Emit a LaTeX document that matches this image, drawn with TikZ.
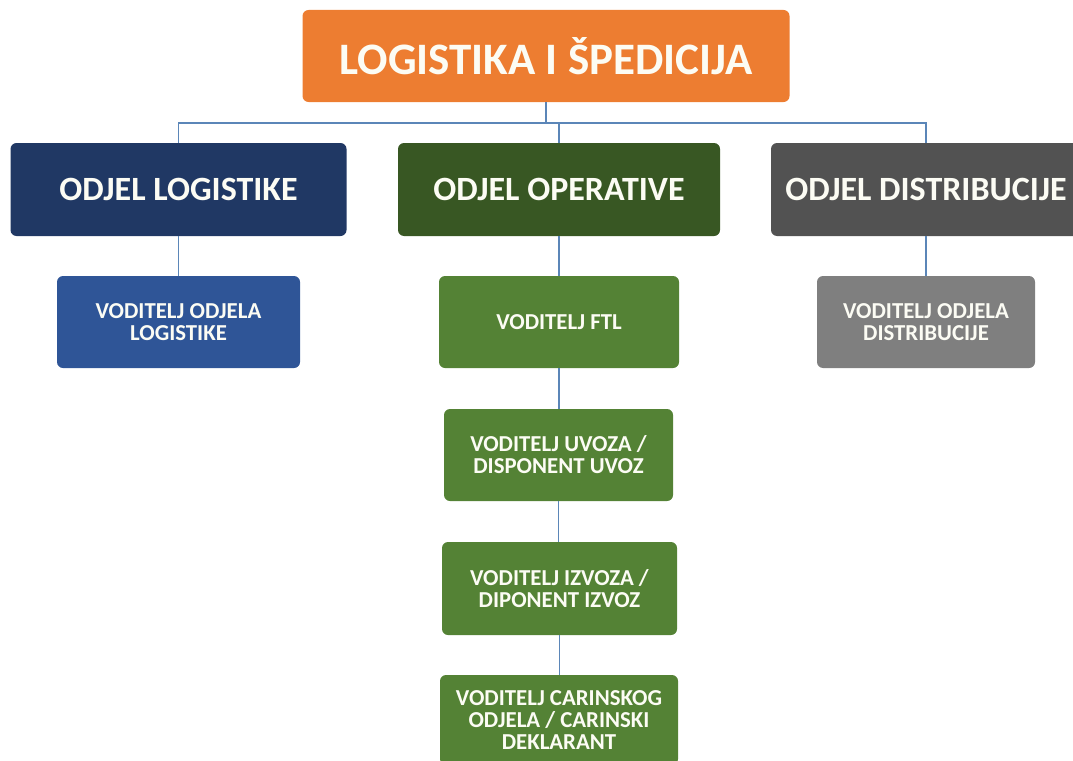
\documentclass[tikz,border=0pt]{standalone}
\usepackage{fontspec}
\setmainfont{Carlito}
\usepackage{tikz}

\definecolor{orangetop}{HTML}{ED7D31}
\definecolor{bluedept}{HTML}{203864}
\definecolor{bluepost}{HTML}{2F5597}
\definecolor{greendept}{HTML}{385723}
\definecolor{greenpost}{HTML}{548235}
\definecolor{graydept}{HTML}{525252}
\definecolor{graypost}{HTML}{7F7F7F}
\definecolor{linkblue}{HTML}{5B86B8}
\definecolor{boxtext}{HTML}{FCFCF4}

\begin{document}
\begin{tikzpicture}[x=1pt,y=-1pt,
    box/.style={rounded corners=6pt,text=boxtext,align=center,inner sep=0pt},
    dept/.style={box,minimum height=93pt,font=\bfseries\fontsize{34}{38}\selectfont},
    post/.style={box,minimum height=92pt,font=\bfseries\fontsize{22.8}{22}\selectfont},
    link/.style={draw=linkblue,line width=1.6pt}]
\useasboundingbox (0,0) rectangle (1073,760);
\clip (0,0) rectangle (1073,760);

\path
    ( 546  , 56  ) node [box,fill=orangetop,minimum width=487pt,minimum height=92pt,
                         font=\bfseries\fontsize{45}{50}\selectfont] (top) {LOGISTIKA I ŠPEDICIJA}
    ( 178.5,189.5) node [dept,fill=bluedept, minimum width=336pt] (logist) {ODJEL LOGISTIKE}
    ( 559  ,189.5) node [dept,fill=greendept,minimum width=322pt] (oper)   {ODJEL OPERATIVE}
    ( 926  ,189.5) node [dept,fill=graydept, minimum width=310pt] (distr)  {ODJEL DISTRIBUCIJE};

\path
    ( 178.5,322  ) node [post,fill=bluepost, minimum width=243pt] (vlog)   {VODITELJ ODJELA\\LOGISTIKE}
    ( 559  ,322  ) node [post,fill=greenpost,minimum width=240pt] (vftl)   {VODITELJ FTL}
    ( 926  ,322  ) node [post,fill=graypost, minimum width=218pt] (vdistr) {VODITELJ ODJELA\\DISTRIBUCIJE}
    ( 558.5,455  ) node [post,fill=greenpost,minimum width=229pt] (vuvoz)  {VODITELJ UVOZA /\\DISPONENT UVOZ}
    ( 559.5,588.5) node [post,fill=greenpost,minimum width=235pt,minimum height=93pt] (vizvoz) {VODITELJ IZVOZA /\\DIPONENT IZVOZ}
    ( 559  ,720  ) node [post,fill=greenpost,minimum width=238pt,minimum height=90pt] (vcarina) {VODITELJ CARINSKOG\\ODJELA / CARINSKI\\DEKLARANT};

% tree lines
\draw[link] (top.south) -- ++(0,21) coordinate (bus);
\draw[link] (logist.north) |- (bus) -| (distr.north);
\draw[link] (oper.north) -- (oper.north |- bus);
\draw[link] (logist.south) -- (vlog.north);
\draw[link] (distr.south)  -- (vdistr.north);
\draw[link] (oper.south)   -- (vftl.north);
\draw[link] (vftl.south)   -- (vftl.south |- vuvoz.north);
\draw[link] (vuvoz.south)  -- (vuvoz.south |- vizvoz.north);
\draw[link] (vizvoz.south) -- (vizvoz.south |- vcarina.north);
\end{tikzpicture}
\end{document}
